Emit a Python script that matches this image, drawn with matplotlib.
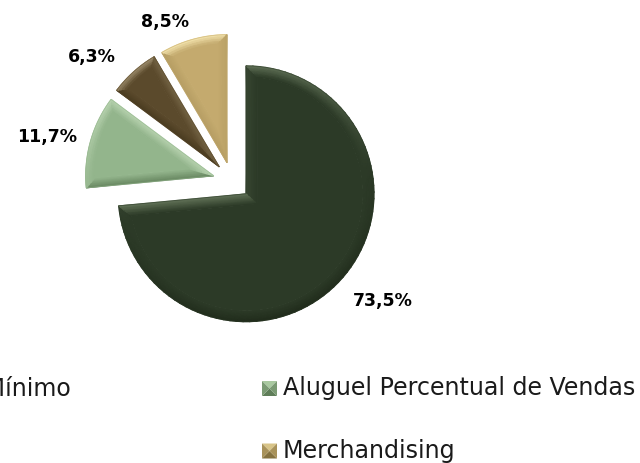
"""
Exploded pie of revenue shares with bevelled slices.
"""

import math

import matplotlib
matplotlib.use('Agg')
import matplotlib.pyplot as plt
import numpy as np
from matplotlib.colors import LinearSegmentedColormap
from matplotlib.patches import Polygon

# Data
values = [73.5, 11.7, 6.3, 8.5]
value_labels = ['73,5%', '11,7%', '6,3%', '8,5%']
colors = ['#2c3a27', '#93b58c', '#5b4a2c', '#c4aa6e']
rim_top = ['#66775c', '#cfe6c6', '#b0a080', '#fbecb6']
rim_low = ['#1f2a1a', '#64835d', '#3f3219', '#94804a']
legend_labels = ['Aluguel Mínimo', 'Aluguel Percentual de Vendas', 'Merchandising']
legend_colors = ['#2f3d29', '#7a9a73', '#a8925a']
legend_light = ['#55664c', '#a9c9a0', '#d8c488']
legend_dark = ['#222c1d', '#5f7e59', '#85723f']

plt.rcParams['font.family'] = ['DejaVu Sans']

fig = plt.figure(figsize=(6.4, 4.63), dpi=100)
ax = fig.add_axes([0, 0, 1, 1])


def inset_outline(cx, cy, r, t1, t2, d):
    # slice outline shrunk by d px: apex, arc points, apex again (angles in degrees, y down)
    half = math.radians(t2 - t1) / 2
    mid = math.radians(t1 + t2) / 2
    reach = d / math.sin(half)
    apex = (cx + reach * math.cos(mid), cy + reach * math.sin(mid))
    r2 = r - d
    shift = math.asin(d / r2)
    arc = np.linspace(math.radians(t1) + shift, math.radians(t2) - shift, 90)
    pts = [apex] + [(cx + r2 * math.cos(a), cy + r2 * math.sin(a)) for a in arc]
    return np.array(pts)


def lighting(t1, t2):
    # light value per outline column, doubled at the corners so facets stay sharp
    def lit(nx, ny):
        return -ny * 0.9 - nx * 0.2
    a1, a2 = math.radians(t1), math.radians(t2)
    side1 = lit(math.sin(a1), -math.cos(a1))
    side2 = lit(-math.sin(a2), math.cos(a2))
    arc = [lit(math.cos(a), math.sin(a)) for a in np.linspace(a1, a2, 90)]
    return np.array([side1, side1] + arc + [side2, side2])


# The pie gives the wedge geometry; y axis is inverted so counterclock=True runs clockwise
wedges, _ = ax.pie(values, colors=colors, startangle=-90, counterclock=True,
                   radius=128, center=(232, 181), explode=[19, 19, 19, 19],
                   frame=False)
ax.set_xlim(0, 640)
ax.set_ylim(463, 0)
ax.set_aspect('auto')
ax.axis('off')

bevel_px = [11, 9, 8, 9]
for i, w in enumerate(wedges):
    cx, cy = w.center
    t1, t2 = w.theta1, w.theta2
    steps = bevel_px[i]
    cmap = LinearSegmentedColormap.from_list('rim', [rim_low[i], colors[i], rim_top[i]])
    light = lighting(t1, t2)
    xs, ys, cs = [], [], []
    for s in np.linspace(0, steps, 5):
        o = inset_outline(cx, cy, w.r, t1, t2, s)
        # columns: apex, first arc point twice, rest of arc, last arc point twice, apex
        o = np.vstack([o[0], o[1], o[1:], o[-1], o[0]])
        xs.append(o[:, 0])
        ys.append(o[:, 1])
        cs.append(light * (1 - s / steps))
    w.set_facecolor('none')
    ax.pcolormesh(np.array(xs), np.array(ys), np.array(cs), cmap=cmap, vmin=-1, vmax=1,
                  shading='gouraud', zorder=3)
    ax.add_patch(Polygon(inset_outline(cx, cy, w.r, t1, t2, steps), closed=True,
                         fc=colors[i], ec=colors[i], lw=0.3, zorder=4))
    # soften the raster edge of the mesh
    ax.add_patch(Polygon(inset_outline(cx, cy, w.r, t1, t2, 0), closed=True,
                         fc='none', ec=colors[i], lw=0.6, alpha=0.6, zorder=5))

# Value labels
label_xy = [(383, 301), (47, 137), (92, 57), (165, 22)]
for txt, (x, y) in zip(value_labels, label_xy):
    ax.text(x, y, txt, fontsize=12.5, fontweight='bold', color='black', ha='center', va='center', zorder=30)

# Legend, first column runs off the left edge like the original
legend_xy = [(-133, 388.5), (262, 388.5), (262, 451)]
s = 15
for txt, col, lt, dk, (x, y) in zip(legend_labels, legend_colors, legend_light, legend_dark, legend_xy):
    c = (x + s / 2, y)
    tl, tr, br, bl = (x, y - s / 2), (x + s, y - s / 2), (x + s, y + s / 2), (x, y + s / 2)
    ax.add_patch(Polygon([tl, tr, c], fc=lt, ec='none', zorder=5))
    ax.add_patch(Polygon([bl, br, c], fc=dk, ec='none', zorder=5))
    ax.add_patch(Polygon([tl, bl, c], fc=col, ec='none', zorder=5))
    ax.add_patch(Polygon([tr, br, c], fc=col, ec='none', zorder=5))
    ax.text(x + 21, y, txt, fontsize=17.1, color='#1a1a1a', ha='left', va='center', zorder=30)

fig.savefig('out.png', dpi=100)
